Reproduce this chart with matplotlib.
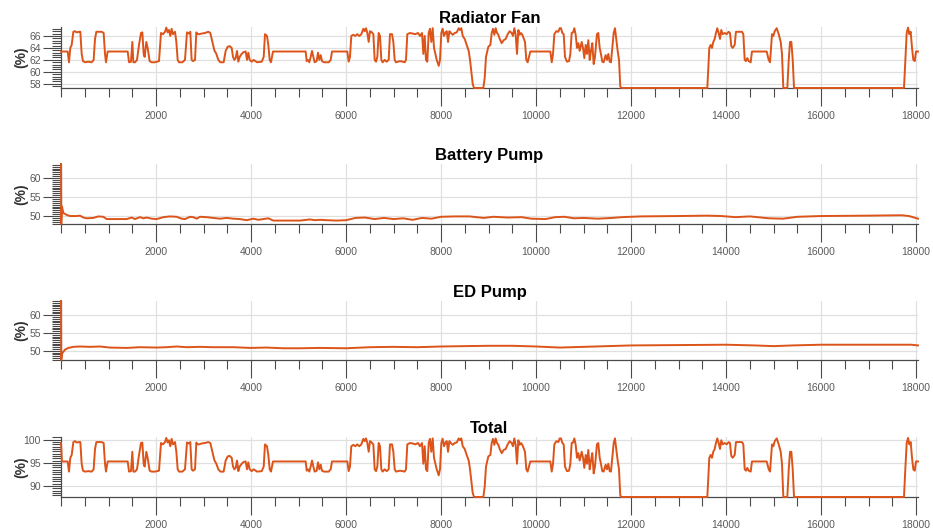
import matplotlib
matplotlib.use("Agg")
import matplotlib.pyplot as plt
from matplotlib.ticker import MultipleLocator

plt.rcParams['font.family'] = ['Liberation Sans', 'DejaVu Sans']

# time axis shared by the radiator fan and total traces
fan_t = [0, 20, 140, 168, 196, 225, 260, 295, 330, 379, 407, 435, 463, 505, 575, 645, 687, 716, 744, 856,
         898, 926, 947, 982, 1404, 1432, 1473, 1502, 1523, 1558, 1600, 1642, 1684, 1712, 1740, 1761, 1796,
         1824, 1866, 1908, 1979, 2063, 2105, 2147, 2189, 2217, 2245, 2273, 2301, 2329, 2357, 2400, 2428,
         2456, 2484, 2554, 2610, 2652, 2694, 2722, 2750, 2779, 2821, 2849, 2877, 2905, 2961, 3031, 3101,
         3143, 3186, 3228, 3270, 3312, 3354, 3424, 3466, 3509, 3551, 3593, 3621, 3649, 3677, 3705, 3733,
         3761, 3803, 3845, 3887, 3915, 3943, 3972, 4014, 4056, 4126, 4225, 4267, 4294, 4336, 4364, 4393,
         4420, 4463, 5150, 5172, 5200, 5227, 5256, 5284, 5312, 5340, 5382, 5410, 5438, 5467, 5494, 5536,
         5635, 5677, 5705, 6027, 6056, 6083, 6111, 6153, 6195, 6238, 6280, 6322, 6364, 6392, 6420, 6448,
         6477, 6504, 6532, 6575, 6603, 6631, 6659, 6687, 6715, 6743, 6771, 6813, 6856, 6898, 6925, 6968,
         6996, 7024, 7052, 7136, 7193, 7235, 7262, 7290, 7347, 7403, 7459, 7515, 7557, 7600, 7627, 7656,
         7683, 7711, 7740, 7767, 7795, 7824, 7852, 7880, 7909, 7951, 7978, 8006, 8035, 8062, 8090, 8119,
         8147, 8175, 8204, 8246, 8288, 8330, 8372, 8399, 8427, 8456, 8498, 8540, 8582, 8610, 8638, 8666,
         8694, 8890, 8919, 8946, 8996, 9038, 9066, 9094, 9122, 9150, 9178, 9206, 9235, 9277, 9319, 9361,
         9403, 9445, 9487, 9515, 9543, 9571, 9599, 9627, 9655, 9683, 9711, 9767, 9795, 9823, 9851, 9879,
         10300, 10330, 10357, 10385, 10427, 10469, 10498, 10525, 10553, 10582, 10609, 10651, 10694, 10722,
         10750, 10778, 10806, 10834, 10862, 10890, 10918, 10961, 10988, 11016, 11045, 11072, 11100, 11129,
         11156, 11184, 11213, 11240, 11282, 11310, 11339, 11366, 11394, 11423, 11465, 11493, 11521, 11549,
         11577, 11605, 11634, 11661, 11689, 11718, 11746, 11773, 11802, 13605, 13647, 13676, 13703, 13731,
         13760, 13787, 13815, 13844, 13872, 13899, 13928, 13970, 14012, 14054, 14082, 14110, 14139, 14181,
         14208, 14335, 14363, 14392, 14419, 14447, 14476, 14518, 14545, 14855, 14897, 14925, 14967, 14995,
         15024, 15066, 15108, 15150, 15177, 15205, 15289, 15319, 15346, 15374, 15403, 15430, 17745, 17773,
         17802, 17830, 17857, 17886, 17914, 17942, 17971, 17998, 18040]

fan_pct = [63.4, 63.4, 63.4, 61.6, 64.0, 64.5, 66.7, 66.8, 66.6, 66.7, 66.7, 63.0, 61.8, 61.6, 61.7, 61.6,
           62.0, 65.5, 66.7, 66.7, 66.5, 63.0, 61.6, 63.4, 63.4, 61.6, 61.7, 65.0, 61.6, 61.6, 62.0, 64.5,
           66.5, 66.6, 63.0, 62.5, 65.0, 64.0, 61.8, 61.6, 61.6, 61.8, 66.5, 66.3, 66.7, 67.4, 66.6, 67.0,
           66.0, 67.2, 66.3, 66.7, 65.0, 62.0, 61.6, 61.6, 62.0, 66.6, 66.4, 66.7, 62.0, 61.8, 62.0, 66.6,
           66.3, 66.3, 66.4, 66.5, 66.7, 66.5, 65.0, 63.6, 63.0, 62.0, 61.6, 61.6, 63.5, 64.2, 64.3, 64.0,
           62.5, 62.0, 62.3, 63.5, 61.7, 62.5, 63.0, 63.3, 63.4, 62.0, 63.2, 62.0, 61.7, 62.0, 61.6, 61.7,
           62.5, 66.3, 66.0, 64.5, 62.0, 61.6, 63.4, 63.4, 61.8, 62.0, 61.6, 62.5, 63.5, 62.5, 61.6, 61.8,
           63.2, 62.0, 62.8, 61.8, 61.6, 61.6, 62.0, 63.4, 63.4, 61.7, 62.5, 66.0, 66.2, 66.0, 66.3, 66.0,
           66.3, 67.2, 66.8, 67.3, 66.5, 65.0, 66.8, 66.7, 66.3, 62.0, 61.7, 62.5, 66.5, 66.0, 62.0, 61.6,
           62.0, 61.7, 62.0, 66.3, 66.3, 65.0, 62.0, 61.6, 61.8, 61.7, 61.6, 62.0, 66.3, 66.5, 66.4, 66.3,
           66.5, 66.0, 66.5, 63.0, 66.0, 62.0, 61.7, 66.5, 67.2, 65.0, 67.3, 64.0, 63.0, 62.0, 61.0, 62.0,
           66.5, 67.2, 66.0, 66.5, 66.8, 65.0, 66.8, 66.5, 66.2, 66.5, 66.6, 67.3, 67.0, 67.3, 66.0, 65.5,
           64.5, 63.5, 62.0, 60.0, 58.0, 57.3, 57.3, 59.0, 62.5, 64.2, 64.5, 66.5, 67.2, 66.2, 67.3, 66.5,
           66.2, 65.5, 64.8, 65.3, 65.5, 66.3, 66.8, 66.5, 66.0, 67.3, 66.2, 63.0, 67.0, 66.2, 66.5, 66.2,
           65.0, 62.0, 61.6, 62.5, 63.4, 63.4, 61.6, 63.0, 66.3, 66.8, 66.7, 67.3, 67.3, 66.5, 66.3, 62.5,
           61.7, 61.8, 63.0, 66.5, 66.6, 67.3, 66.2, 64.0, 64.8, 63.5, 65.0, 64.0, 62.3, 64.5, 63.0, 65.3,
           62.0, 63.5, 64.8, 61.3, 62.5, 66.3, 66.5, 64.0, 63.0, 61.7, 61.6, 62.8, 62.0, 63.0, 61.7, 61.6,
           64.0, 66.5, 67.3, 65.5, 63.5, 62.0, 57.5, 57.3, 57.3, 64.0, 64.5, 64.0, 65.0, 65.5, 66.5, 67.3,
           66.5, 65.5, 67.0, 66.3, 66.5, 66.3, 66.7, 66.5, 64.3, 64.0, 64.5, 66.7, 66.7, 66.3, 62.0, 61.8,
           62.3, 61.8, 61.6, 63.4, 63.4, 62.0, 61.6, 66.3, 66.0, 66.8, 67.3, 66.3, 65.0, 63.0, 57.3, 57.3,
           62.0, 65.0, 65.0, 62.0, 57.3, 57.3, 62.0, 66.5, 67.4, 66.3, 66.7, 64.0, 62.0, 61.8, 63.4, 63.4]

total_pct = [99.3, 95.3, 95.3, 93.1, 96.1, 96.7, 99.5, 99.7, 99.4, 99.5, 99.5, 94.8, 93.3, 93.1, 93.2, 93.1,
             93.6, 98.0, 99.5, 99.5, 99.3, 94.8, 93.1, 95.3, 95.3, 93.1, 93.2, 97.4, 93.1, 93.1, 93.6, 96.7,
             99.3, 99.4, 94.8, 94.2, 97.4, 96.1, 93.3, 93.1, 93.1, 93.3, 99.3, 99.0, 99.5, 100.4, 99.4, 99.9,
             98.6, 100.2, 99.0, 99.5, 97.4, 93.6, 93.1, 93.1, 93.6, 99.4, 99.2, 99.5, 93.6, 93.3, 93.6, 99.4,
             99.0, 99.0, 99.2, 99.3, 99.5, 99.3, 97.4, 95.6, 94.8, 93.6, 93.1, 93.1, 95.5, 96.4, 96.5, 96.1,
             94.2, 93.6, 93.9, 95.5, 93.2, 94.2, 94.8, 95.2, 95.3, 93.6, 95.1, 93.6, 93.2, 93.6, 93.1, 93.2,
             94.2, 99.0, 98.6, 96.7, 93.6, 93.1, 95.3, 95.3, 93.3, 93.6, 93.1, 94.2, 95.5, 94.2, 93.1, 93.3,
             95.1, 93.6, 94.6, 93.3, 93.1, 93.1, 93.6, 95.3, 95.3, 93.2, 94.2, 98.6, 98.9, 98.6, 99.0, 98.6,
             99.0, 100.2, 99.7, 100.3, 99.3, 97.4, 99.7, 99.5, 99.0, 93.6, 93.2, 94.2, 99.3, 98.6, 93.6, 93.1,
             93.6, 93.2, 93.6, 99.0, 99.0, 97.4, 93.6, 93.1, 93.3, 93.2, 93.1, 93.6, 99.0, 99.3, 99.2, 99.0,
             99.3, 98.6, 99.3, 94.8, 98.6, 93.6, 93.2, 99.3, 100.2, 97.4, 100.3, 96.1, 94.8, 93.6, 92.3, 93.6,
             99.3, 100.2, 98.6, 99.3, 99.7, 97.4, 99.7, 99.3, 98.9, 99.3, 99.4, 100.3, 99.9, 100.3, 98.6, 98.0,
             96.7, 95.5, 93.6, 91.0, 88.5, 87.6, 87.6, 89.8, 94.2, 96.4, 96.7, 99.3, 100.2, 98.9, 100.3, 99.3,
             98.9, 98.0, 97.1, 97.8, 98.0, 99.0, 99.7, 99.3, 98.6, 100.3, 98.9, 94.8, 99.9, 98.9, 99.3, 98.9,
             97.4, 93.6, 93.1, 94.2, 95.3, 95.3, 93.1, 94.8, 99.0, 99.7, 99.5, 100.3, 100.3, 99.3, 99.0, 94.2,
             93.2, 93.3, 94.8, 99.3, 99.4, 100.3, 98.9, 96.1, 97.1, 95.5, 97.4, 96.1, 93.9, 96.7, 94.8, 97.8,
             93.6, 95.5, 97.1, 92.7, 94.2, 99.0, 99.3, 96.1, 94.8, 93.2, 93.1, 94.6, 93.6, 94.8, 93.2, 93.1,
             96.1, 99.3, 100.3, 98.0, 95.5, 93.6, 87.9, 87.6, 87.6, 96.1, 96.7, 96.1, 97.4, 98.0, 99.3, 100.3,
             99.3, 98.0, 99.9, 99.0, 99.3, 99.0, 99.5, 99.3, 96.5, 96.1, 96.7, 99.5, 99.5, 99.0, 93.6, 93.3,
             93.9, 93.3, 93.1, 95.3, 95.3, 93.6, 93.1, 99.0, 98.6, 99.7, 100.3, 99.0, 97.4, 94.8, 87.6, 87.6,
             93.6, 97.4, 97.4, 93.6, 87.6, 87.6, 93.6, 99.3, 100.4, 99.0, 99.5, 96.1, 93.6, 93.3, 95.3, 95.3]

bat_t = [0, 5, 21, 49, 119, 189, 330, 400, 470, 540, 680, 786, 891, 961, 1172, 1383, 1488, 1558, 1663, 1733,
         1803, 1909, 2014, 2154, 2294, 2435, 2540, 2610, 2715, 2785, 2856, 2926, 3066, 3207, 3347, 3488,
         3628, 3768, 3909, 4049, 4154, 4259, 4364, 4470, 4751, 5031, 5241, 5347, 5452, 5600, 5800, 6000,
         6200, 6400, 6600, 6800, 7000, 7200, 7400, 7600, 7800, 8000, 8300, 8600, 8900, 9100, 9400, 9700,
         9900, 10200, 10400, 10600, 10800, 11000, 11300, 11600, 11800, 12200, 13000, 13600, 13900, 14200,
         14500, 14900, 15200, 15500, 16000, 17000, 17700, 17850, 18040]
bat_pct = [63.7, 47.9, 52.5, 50.8, 50.3, 50.0, 50.0, 50.1, 49.6, 49.4, 49.5, 49.9, 49.8, 49.2, 49.2, 49.2,
           49.6, 49.2, 49.7, 49.4, 49.6, 49.3, 49.2, 49.7, 49.9, 49.8, 49.3, 49.2, 49.8, 49.7, 49.3, 49.8,
           49.7, 49.5, 49.3, 49.5, 49.3, 49.2, 48.9, 49.3, 49.0, 49.2, 49.4, 48.8, 48.8, 48.8, 49.1, 48.9,
           49.0, 48.9, 48.8, 48.9, 49.5, 49.6, 49.2, 49.5, 49.2, 49.4, 49.0, 49.5, 49.3, 49.8, 49.9, 49.9,
           49.5, 49.8, 49.6, 49.7, 49.3, 49.2, 49.7, 49.8, 49.4, 49.5, 49.3, 49.5, 49.7, 49.9, 50.0, 50.1,
           50.0, 49.7, 49.9, 49.4, 49.3, 49.8, 50.0, 50.1, 50.2, 50.0, 49.3]

ed_t = [0, 5, 21, 84, 154, 260, 400, 610, 820, 1030, 1380, 1660, 2010, 2225, 2435, 2645, 2926, 3207, 3628,
        3979, 4330, 4680, 5031, 5452, 6000, 6500, 7000, 7500, 8000, 8500, 9000, 9500, 10000, 10500, 11000,
        11500, 12000, 13000, 14000, 14600, 15000, 15400, 16000, 17000, 17900, 18040]
ed_pct = [64.0, 47.4, 49.2, 50.3, 50.8, 51.1, 51.2, 51.1, 51.2, 50.9, 50.8, 51.0, 50.9, 51.0, 51.2, 51.0,
          51.1, 51.0, 51.0, 50.8, 50.9, 50.7, 50.7, 50.8, 50.7, 51.0, 51.1, 51.0, 51.2, 51.3, 51.4, 51.4,
          51.2, 50.9, 51.1, 51.3, 51.5, 51.6, 51.7, 51.5, 51.3, 51.5, 51.7, 51.7, 51.7, 51.5]

titles = ['Radiator Fan', 'Battery Pump', 'ED Pump', 'Total']
ylims = [(57.3, 67.5), (47.9, 63.7), (47.4, 64.0), (87.6, 100.6)]
yticks = [[58, 60, 62, 64, 66], [50, 55, 60], [50, 55, 60], [90, 95, 100]]
yminor = [0.4, 0.5, 0.5, 0.5]
xticks = list(range(2000, 18001, 2000))

# axes boxes in pixels (top, bottom) on a 933x532 canvas
W, H = 933, 532
boxes = [(27, 88), (164, 224), (301, 360), (437, 497)]
left_px, right_px = 61, 918

line_color = '#DC5419'
tick_color = '#4a4a4a'
label_color = '#5a5a5a'

fig = plt.figure(figsize=(W / 100, H / 100), dpi=100)

series = [(fan_t, fan_pct), (bat_t, bat_pct), (ed_t, ed_pct), (fan_t, total_pct)]
for k, (t, v) in enumerate(series):
    top, bot = boxes[k]
    ax = fig.add_axes([left_px / W, 1 - bot / H, (right_px - left_px) / W, (bot - top) / H])
    ax.plot(t, v, color=line_color, lw=1.4, zorder=3, clip_on=False)
    ax.set_xlim(0, 18040)
    ax.set_ylim(*ylims[k])
    ax.set_xticks(xticks)
    ax.set_yticks(yticks[k])
    ax.xaxis.set_minor_locator(MultipleLocator(500))
    ax.yaxis.set_minor_locator(MultipleLocator(yminor[k]))
    ax.grid(True, which='major', color='#e0e0e0', lw=0.9, zorder=0)
    ax.set_axisbelow(True)
    for s in ['top', 'right']:
        ax.spines[s].set_visible(False)
    for s in ['left', 'bottom']:
        ax.spines[s].set_color(tick_color)
        ax.spines[s].set_linewidth(0.9)
    ax.tick_params(axis='both', which='major', direction='out', length=13, width=0.8,
                   color=tick_color, labelcolor=label_color, labelsize=7.5)
    ax.tick_params(axis='both', which='minor', direction='out', length=6.5, width=0.8, color=tick_color)
    ax.tick_params(axis='x', which='major', pad=3.5)
    ax.tick_params(axis='y', which='major', pad=1.5)
    ax.set_title(titles[k], fontsize=12, fontweight='bold', pad=3)
    ax.set_ylabel('(%)', fontsize=10, fontweight='bold', color='#333333')
    ax.yaxis.set_label_coords(-33 / (right_px - left_px), 0.5)

fig.savefig('out.png', dpi=100)
